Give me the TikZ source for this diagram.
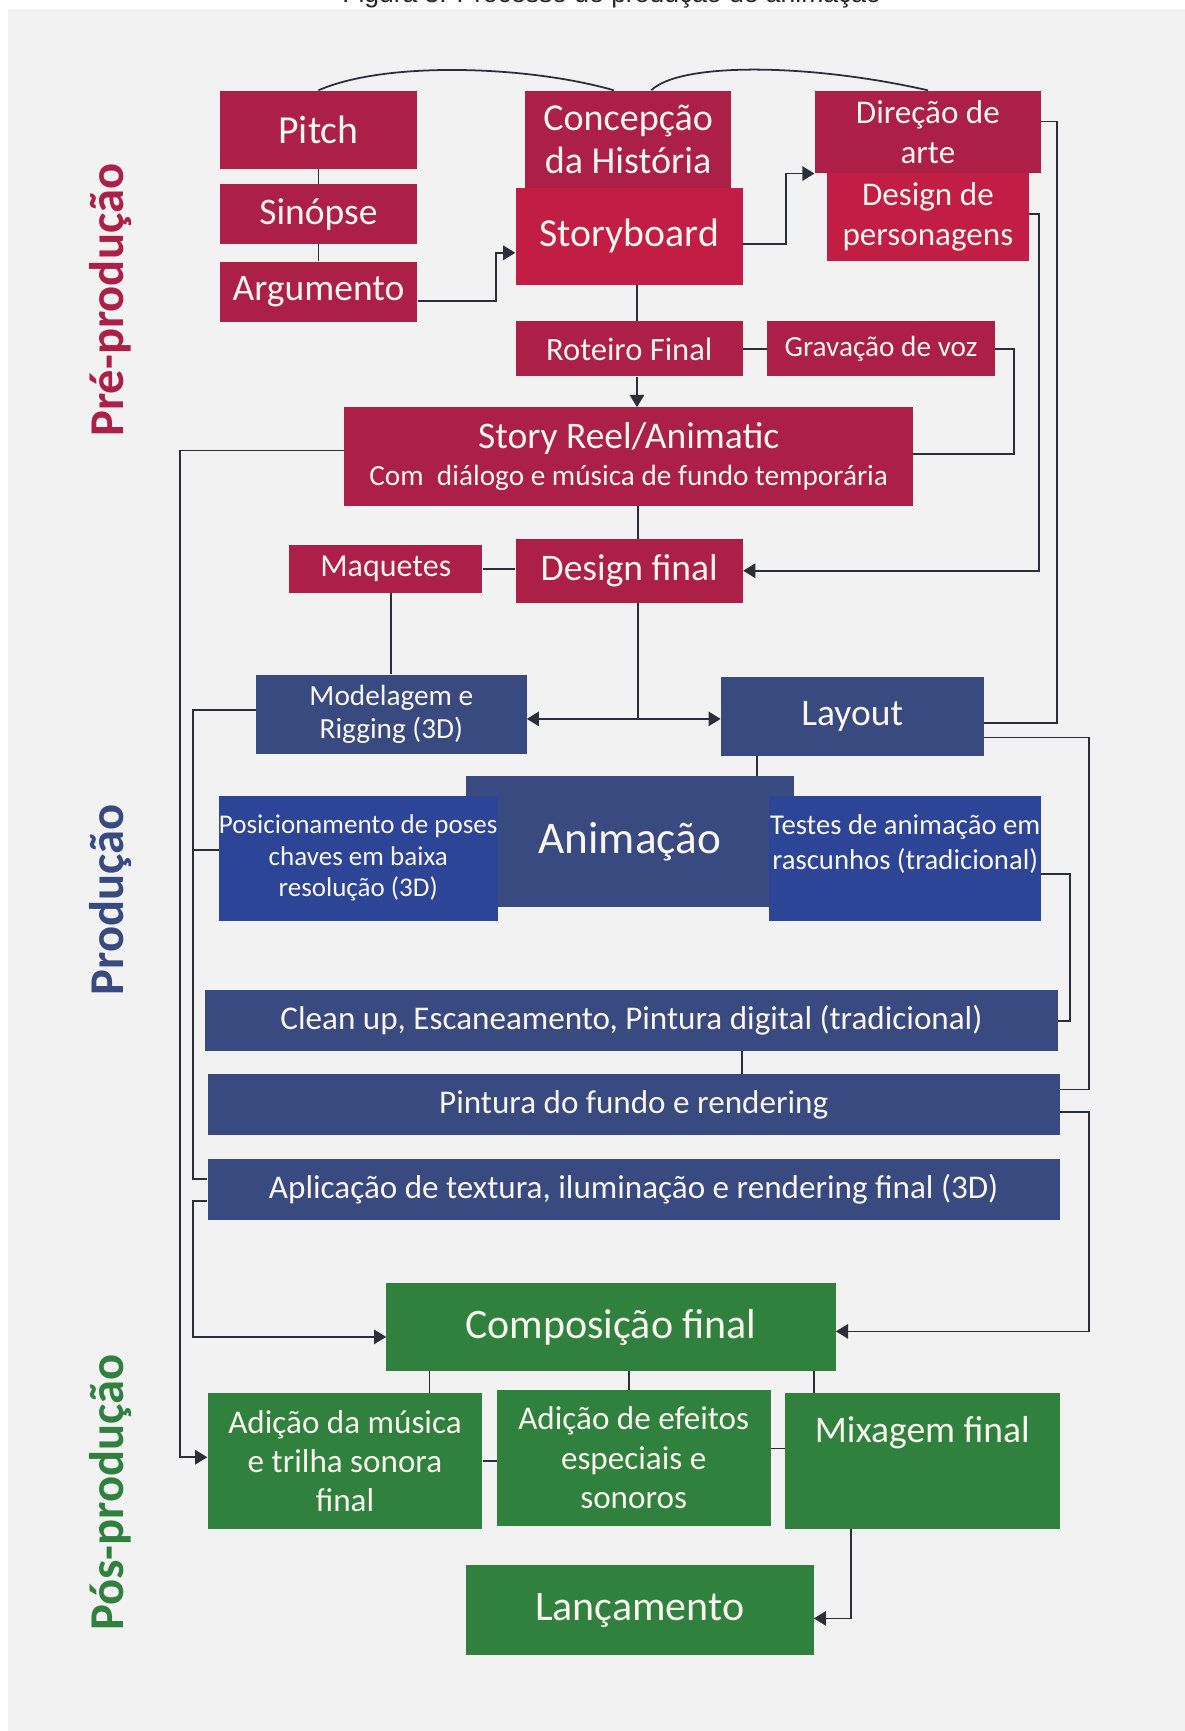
\documentclass[tikz,border=0pt]{standalone}
\usepackage{fontspec}
\setmainfont{Carlito}
\newfontfamily\titlefont{Liberation Sans}
\usetikzlibrary{positioning, arrows.meta}
\definecolor{preRed}{RGB}{172,31,71}
\definecolor{preHot}{RGB}{193,29,69}
\definecolor{prodBlue}{RGB}{57,74,128}
\definecolor{prodHot}{RGB}{45,69,150}
\definecolor{posGreen}{RGB}{48,128,62}
\definecolor{bgGray}{RGB}{242,242,242}
\definecolor{linkGray}{RGB}{44,46,58}
\definecolor{boxText}{RGB}{250,246,238}
\newcommand{\fsz}[2]{\fontsize{#1pt}{#2pt}\selectfont}
\tikzset{
  stage/.style={rectangle, inner sep=0pt, align=center, text=boxText},
  prebox/.style={stage, fill=preRed},
  prehot/.style={stage, fill=preHot},
  prodbox/.style={stage, fill=prodBlue},
  prodhot/.style={stage, fill=prodHot},
  posbox/.style={stage, fill=posGreen},
  wh/.style 2 args={minimum width=#1pt, minimum height=#2pt},
  tag/.style={align=center, text=boxText, inner sep=0pt},
  link/.style={draw=linkGray, line width=1.6pt},
  arr/.style={link, -{Triangle[length=11pt,width=13pt]}},
  phase/.style={rotate=90, font=\bfseries\fsz{44}{50}},
}

\begin{document}
\begin{tikzpicture}[x=1pt, y=-1pt]
  \useasboundingbox (0,0) rectangle (1073,1568);
  \fill[white] (0,0) rectangle (1073,1568);
  \fill[bgGray] (7,8) rectangle (1073,1568);
  \node[anchor=base, font=\titlefont\fsz{24}{28}, text=black!85] (title) at (554,2.5) {Figura 3: Processo de produção de animação};

  % fases
  \node[phase, text=preRed] (fasepre) at (100,272) {Pré-produção};
  \node[phase, text=prodBlue] (faseprod) at (100,815) {Produção};
  \node[phase, text=posGreen] (fasepos) at (100,1352) {Pós-produção};

  % pre-producao
  \node[prebox, wh={179}{71}, font=\fsz{36}{42}] (pitch) at (288.5,117.5) {Pitch};
  \node[prebox, wh={179}{54}, font=\fsz{34}{40}] (sinopse) at (288.5,194) {Sinópse};
  \node[prebox, wh={179}{55}, font=\fsz{34}{40}] (argumento) at (288.5,264.5) {Argumento};
  \node[prebox, wh={186}{88}, font=\fsz{34.5}{39}] (concepcao) at (569,126) {Concepção\\da História};
  \node[prehot, wh={206}{88}, font=\fsz{36}{42}] (storyboard) at (570,214) {Storyboard};
  \node[prebox, wh={205}{75}, font=\fsz{30}{36}] (direcao) at (840.5,119.5) {Direção de\\arte};
  \node[prehot, wh={183}{79}, font=\fsz{30}{36}] (personagens) at (840.5,196.5) {Design de\\personagens};
  \node[prebox, wh={206}{50}, font=\fsz{29.5}{35}] (roteiro) at (570,316) {Roteiro Final};
  \node[prebox, wh={206}{50}, font=\fsz{26.5}{32}] (gravacao) at (798,316) {Gravação de voz};
  \node[prebox, wh={515}{89}, font=\fsz{26.5}{33}] (reel) at (569.5,413.5) {{\fsz{34}{40}Story Reel/Animatic}\\Com~~diálogo e música de fundo temporária};
  \node[prebox, wh={175}{43}, font=\fsz{29}{34}] (maquetes) at (349.5,515.5) {Maquetes};
  \node[prebox, wh={206}{58}, font=\fsz{34}{40}] (dfinal) at (570,517) {Design final};

  % producao
  \node[prodbox, wh={245}{72}, font=\fsz{26.5}{30}] (modelagem) at (354.5,647) {Modelagem e\\Rigging (3D)};
  \node[prodbox, wh={238}{72}, font=\fsz{34}{40}] (layout) at (772,649) {Layout};
  \node[prodbox, wh={297}{119}, font=\fsz{41}{48}] (animacao) at (570.5,762.5) {Animação};
  \node[prodhot, wh={251}{113}, font=\fsz{24.5}{28.5}] (poses) at (324.5,777.5) {Posicionamento de poses\\chaves em baixa\\resolução (3D)};
  \node[prodhot, wh={246}{113}, label={[tag, font=\fsz{26}{31}, yshift=13pt]center:Testes de animação em\\rascunhos (tradicional)}] (testes) at (820,777.5) {};
  \node[prodbox, wh={772}{55}, font=\fsz{30}{36}] (cleanup) at (572,924.5) {Clean up, Escaneamento, Pintura digital (tradicional)};
  \node[prodbox, wh={772}{55}, font=\fsz{30}{36}] (fundo) at (574,1000.5) {Pintura do fundo e rendering};
  \node[prodbox, wh={772}{55}, font=\fsz{30}{36}] (textura) at (574,1077.5) {Aplicação de textura, iluminação e rendering final (3D)};

  % pos-producao
  \node[posbox, wh={407}{80}, font=\fsz{38}{44}] (composicao) at (553.5,1202) {Composição final};
  \node[posbox, wh={249}{123}, font=\fsz{30}{35.5}] (musica) at (312.5,1323.5) {Adição da música\\e trilha sonora\\final};
  \node[posbox, wh={248}{123}, font=\fsz{30}{36}] (efeitos) at (574,1320.5) {Adição de efeitos\\especiais e\\sonoros};
  \node[posbox, wh={249}{123}, label={[tag, font=\fsz{34}{40}, yshift=26pt]center:Mixagem final}] (mixagem) at (835.5,1323.5) {};
  \node[posbox, wh={315}{81}, font=\fsz{38}{44}] (lancamento) at (579.5,1458.5) {Lançamento};

  % ligacoes
  \draw[link] (pitch.north) .. controls +(61.5,-27) and +(-76,-22) .. ([xshift=-13pt]concepcao.north);
  \draw[link] ([xshift=21pt]concepcao.north) .. controls +(25,-25) and +(-110.5,-25) .. (direcao.north);
  \draw[link] (pitch.south) -- (sinopse.north);
  \draw[link] (sinopse.south) -- (argumento.north);
  \draw[arr] ([yshift=-8.5pt]argumento.east) -- ++(71,0) |- ([yshift=-15pt]storyboard.west);
  \draw[arr] ([yshift=-7pt]storyboard.east) -- ++(39,0) |- (direcao.south west);
  \draw[link] ([xshift=7pt]storyboard.south) -- ([xshift=7pt]roteiro.north);
  \draw[arr] ([xshift=7pt]roteiro.south) -- ([xshift=7.5pt]reel.north);
  \draw[link] (roteiro.east) -- (gravacao.west);
  \draw[link] (gravacao.east) -- ++(17,0) |- ([yshift=2.5pt]reel.east);
  \draw[link] ([yshift=9.5pt]direcao.east) -- ++(14,0) |- ([yshift=-6pt]layout.east);
  \draw[arr] ([yshift=2.5pt]personagens.east) -- ++(9,0) |- (dfinal.east);
  \draw[link] ([xshift=8.5pt]reel.south) -- ([xshift=8pt]dfinal.north);
  \draw[link] (maquetes.east) -- (maquetes.east -| dfinal.west);
  \draw[link] (modelagem.north |- maquetes.south) -- (modelagem.north);
  \draw[link] ([xshift=8pt]dfinal.south) -- ++(0,105) coordinate (split);
  \draw[arr] (split) -- (split -| modelagem.east);
  \draw[arr] (split) -- (split -| layout.west);
  \draw[link] ([xshift=-86pt]layout.south) -- ([xshift=-86pt]layout.south |- animacao.north);
  \draw[arr] ([yshift=5.5pt]reel.west) -- ++(-149,0) |- ([yshift=3.5pt]musica.west);
  \draw[link] ([yshift=4pt]modelagem.west) -- ++(-57,0) coordinate (lspine) |- ([yshift=9.5pt]textura.west);
  \draw[link] ([yshift=7.5pt]poses.west) -- ++(-24,0);
  \draw[arr] ([yshift=-10.5pt]textura.west) -- ++(-13,0) |- ([yshift=-9pt]composicao.west);
  \draw[link] ([yshift=-14.5pt]testes.east) -- ++(26,0) |- (cleanup.east);
  \draw[link] ([xshift=100pt]cleanup.south) -- ([xshift=98pt]fundo.north);
  \draw[link] ([yshift=-19pt]layout.east) -- ++(95,0) |- ([yshift=13.5pt]fundo.east);
  \draw[arr] ([yshift=-6.5pt]fundo.east) -- ++(26,0) |- ([yshift=-4pt]composicao.east);
  \draw[link] ([xshift=76.5pt]musica.north) -- ([xshift=76.5pt]musica.north |- composicao.south);
  \draw[link] ([xshift=-4pt]efeitos.north) -- ([xshift=-4pt]efeitos.north |- composicao.south);
  \draw[link] ([xshift=-98.5pt]mixagem.north) -- ([xshift=-98.5pt]mixagem.north |- composicao.south);
  \draw[link] (musica.east) -- (musica.east -| efeitos.west);
  \draw[link] ([yshift=8.5pt]efeitos.east) -- ([yshift=8.5pt]efeitos.east -| mixagem.west);
  \draw[arr] ([xshift=-64.5pt]mixagem.south) |- ([yshift=-7.5pt]lancamento.east);
\end{tikzpicture}
\end{document}
